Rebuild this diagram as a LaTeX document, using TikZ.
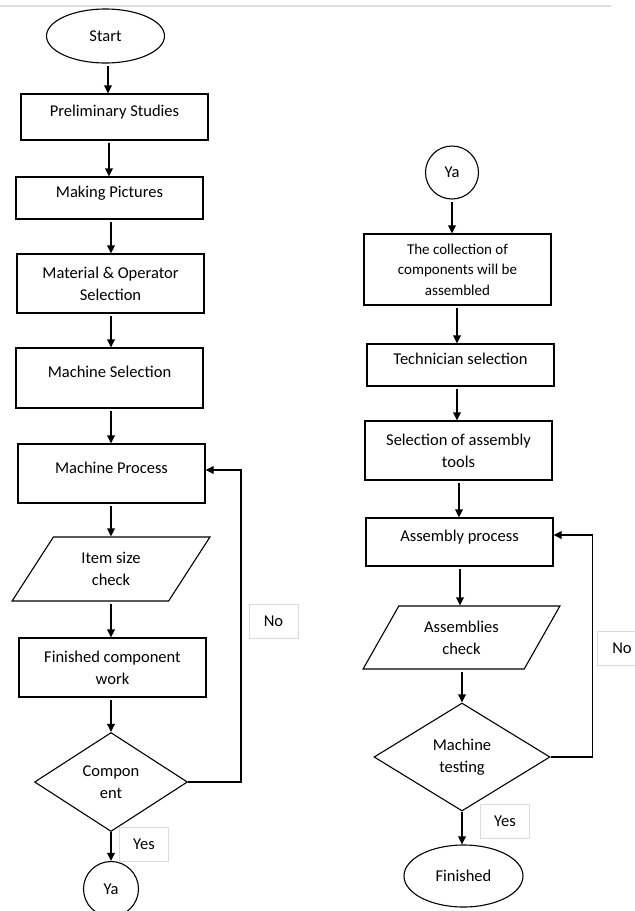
\documentclass[tikz,border=0pt]{standalone}
\usepackage{fontspec}
\setmainfont{Carlito}
\usepackage{tikz}
\usetikzlibrary{shapes,positioning,arrows.meta}
\tikzset{proc/.style={rectangle,draw,line width=1.1pt,minimum width=187pt,align=center,inner sep=2pt,font=\fontsize{16.5}{22}\selectfont}}
\tikzset{one/.style={text height=11.5pt,text depth=12pt}}
\tikzset{ell/.style={ellipse,draw,line width=1.1pt,inner sep=0pt,font=\fontsize{16.5}{22}\selectfont}}
\tikzset{io/.style={trapezium,trapezium left angle=57.6,trapezium right angle=122.4,trapezium stretches=true,draw,line width=1.1pt,align=center,inner sep=0pt,font=\fontsize{16.5}{22}\selectfont}}
\tikzset{dec/.style={diamond,draw,line width=1.1pt,align=center,inner sep=0pt,font=\fontsize{16.5}{22}\selectfont}}
\tikzset{lab/.style={rectangle,draw=black!14,line width=0.7pt,minimum width=49pt,minimum height=34pt,font=\fontsize{16.5}{22}\selectfont}}
\tikzset{arr/.style={->,line width=1.8pt,shorten <=2.5pt}}

\begin{document}
\begin{tikzpicture}[>={Triangle[length=8pt,width=7.5pt]},x=1pt,y=-1pt]
        \useasboundingbox (0,0) rectangle (635,911);
        \draw[black!12,line width=1.2pt] (0,6) -- (611,6);

        % left column
        \node[ell,minimum width=118pt,minimum height=54pt] (start) at (105.5,36) {Start};
        \node[proc,one,minimum height=46pt] (prelim) at (114.5,117) {Preliminary Studies};
        \node[proc,one,minimum height=42pt] (pict) at (109.5,198) {Making Pictures};
        \node[proc,minimum height=59pt] (matop) at (110.5,283.5) {Material \& Operator\\Selection};
        \node[proc,one,minimum height=60pt] (msel) at (109.5,378) {Machine Selection};
        \node[proc,one,minimum height=59pt] (mproc) at (111.5,473.5) {Machine Process};
        \node[io,minimum width=198pt,minimum height=64pt] (size) at (111,569) {Item size\\check};
        \node[proc,minimum height=59pt] (fin) at (112.5,667.5) {Finished component\\work};
        \node[dec,minimum width=153pt,minimum height=99pt] (comp) at (111,782) {Compon\\ent};
        \node[ell,circle,minimum size=55pt] (ya1) at (111,889) {Ya};
        \node[lab] (nol) at (273.5,621) {No};
        \node[lab] (yesl) at (144,844) {Yes};

        % right column
        \node[ell,circle,minimum size=53pt] (ya2) at (452,172.5) {Ya};
        \node[proc,minimum height=71pt,font=\fontsize{15}{20.5}\selectfont] (coll) at (457.5,269.5) {The collection of\\components will be\\assembled};
        \node[proc,one,minimum height=42pt] (tech) at (460.5,365) {Technician selection};
        \node[proc,minimum height=59pt] (tools) at (458.5,450.5) {Selection of assembly\\tools};
        \node[proc,one,minimum height=48pt] (aproc) at (459.5,542) {Assembly process};
        \node[io,minimum width=197pt,minimum height=63pt] (achk) at (461.5,637.5) {Assemblies\\check};
        \node[dec,minimum width=176pt,minimum height=108pt] (mtest) at (462,757) {Machine\\testing};
        \node[ell,minimum width=119pt,minimum height=62pt] (done) at (463.5,876) {Finished};
        \node[lab] (nor) at (622,648) {No};
        \node[lab] (yesr) at (505,821) {Yes};

        \draw [arr] (start.south -| 108,0) -- (prelim.north -| 108,0);
        \draw [arr] (prelim.south -| 109,0) -- (pict.north -| 109,0);
        \draw [arr] (pict.south -| 111,0) -- (matop.north -| 111,0);
        \draw [arr] (matop.south -| 111,0) -- (msel.north -| 111,0);
        \draw [arr] (msel.south -| 111,0) -- (mproc.north -| 111,0);
        \draw [arr] (mproc.south -| 111,0) -- (size.north -| 111,0);
        \draw [arr] (size.south -| 111,0) -- (fin.north -| 111,0);
        \draw [arr] (fin.south -| 111,0) -- (comp.north);
        \draw [arr,shorten <=0pt] (comp.south) -- (ya1.north);
        \draw [arr,shorten <=0pt] (comp.east) -- ++(53,0) |- ([yshift=3.5pt]mproc.east);

        \draw [arr] (ya2.south) -- (coll.north -| ya2);
        \draw [arr] (coll.south -| 457,0) -- (tech.north -| 457,0);
        \draw [arr] (tech.south -| 457,0) -- (tools.north -| 457,0);
        \draw [arr] (tools.south -| 459,0) -- (aproc.north -| 459,0);
        \draw [arr] (aproc.south -| 460,0) -- (achk.north -| 460,0);
        \draw [arr] (achk.south -| 462,0) -- (mtest.north);
        \draw [arr,shorten <=0pt] (mtest.south) -- (done.north -| mtest);
        \draw [arr,shorten <=0pt] (mtest.east) -- ++(42,0) |- ([yshift=7pt]aproc.east);

    \end{tikzpicture}
\end{document}
